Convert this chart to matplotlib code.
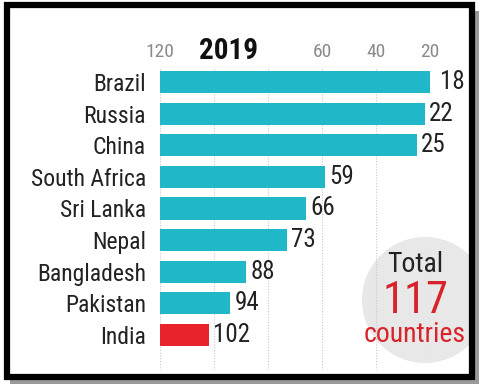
import matplotlib
matplotlib.use("Agg")
import matplotlib.pyplot as plt
from matplotlib.patches import Circle, Rectangle

countries = ["Brazil", "Russia", "China", "South Africa", "Sri Lanka",
             "Nepal", "Bangladesh", "Pakistan", "India"]
ranks = [18, 22, 25, 59, 66, 73, 88, 94, 102]
tick_values = [120, 100, 80, 60, 40, 20]
tick_labels = ["120", "", "", "60", "40", "20"]
title = "2019"
total_label = ["Total", "117", "countries"]
base = 120

plt.rcParams["font.family"] = ["Roboto Condensed", "DejaVu Sans"]

W, H = 486, 389
fig = plt.figure(figsize=(W / 100, H / 100), dpi=100)
fig.patch.set_facecolor("white")

def px(x0, y0, x1, y1):
    return [x0 / W, 1 - y1 / H, (x1 - x0) / W, (y1 - y0) / H]

ax = fig.add_axes(px(160, 67, 430, 370))
ax.patch.set_visible(False)

teal = "#20b7c9"
red = "#e8232b"
colors = [red if c == "India" else teal for c in countries]
ypos = list(range(len(countries)))

ax.barh(ypos, [r - base for r in ranks], left=base, height=0.7,
        color=colors, zorder=2)
ax.set_xlim(120, 20)
ax.set_ylim(9.11, -0.475)

for y, r in zip(ypos, ranks):
    ax.annotate(str(r), xy=(r, y), xytext=(3, 0), textcoords="offset points",
                ha="left", va="center", fontsize=18, color="#222222",
                annotation_clip=False)

ax.set_xticks(tick_values)
ax.set_xticklabels(tick_labels)
ax.xaxis.tick_top()
ax.tick_params(axis="x", length=0, pad=4, labelsize=14, labelcolor="#8a8a8a")
ax.set_yticks(ypos)
ax.set_yticklabels(countries)
ax.tick_params(axis="y", length=0, pad=10, labelsize=17, labelcolor="#222222")
ax.grid(axis="x", linestyle=(0, (1, 1.5)), color="#c8c8c8", linewidth=0.8, zorder=0)
ax.set_axisbelow(True)
for s in ax.spines.values():
    s.set_visible(False)

fig.text(229 / W, 1 - 51 / H, title, ha="center", va="center",
         fontsize=21, fontweight="bold", color="#111111")

t = fig.dpi_scale_trans
clip = Rectangle((0.10, 0.15), 4.59, 3.66, transform=t, visible=False)
fig.add_artist(clip)
circ = Circle((4.25, (H - 300) / 100), 0.63, transform=t,
              facecolor="#e8e8e8", edgecolor="none", zorder=-1)
fig.add_artist(circ)
circ.set_clip_path(clip)

fig.text(415 / W, 1 - 265 / H, total_label[0], ha="center", va="center",
         fontsize=20, color="#222222")
fig.text(415 / W, 1 - 301 / H, total_label[1], ha="center", va="center",
         fontsize=32, color="#d8232a")
fig.text(415 / W, 1 - 335 / H, total_label[2], ha="center", va="center",
         fontsize=20, color="#d8232a")

# shadow (right and bottom) and frame
fig.add_artist(Rectangle((4.74, 0.05), 0.05, 3.73, transform=t,
                         facecolor="#9a9a9a", edgecolor="none", zorder=9))
fig.add_artist(Rectangle((0.10, 0.05), 4.69, 0.05, transform=t,
                         facecolor="#9a9a9a", edgecolor="none", zorder=9))
frame = Rectangle((0.07, 0.12), 4.65, 3.72, transform=t, fill=False,
                  edgecolor="black", linewidth=4.5, zorder=10)
fig.add_artist(frame)

fig.savefig("out.png", dpi=100, facecolor="white")
